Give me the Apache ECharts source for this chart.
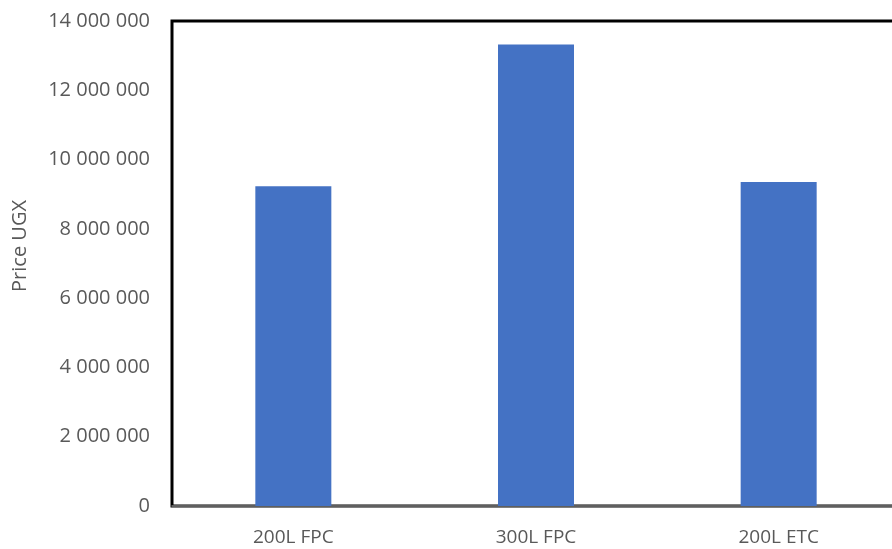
<!DOCTYPE html>
<html>
<head>
<meta charset="utf-8">
<script src="https://cdn.jsdelivr.net/npm/echarts@6/dist/echarts.min.js"></script>
<style>
  html, body { margin: 0; padding: 0; background: #ffffff; overflow: hidden; }
  /* the plot frame runs past the right edge of the page */
  #chart { width: 900px; height: 549px; }
</style>
</head>
<body>
<div id="chart"></div>
<script>
// Prices of the three tank models, in Ugandan shillings
const categories = ['200L FPC', '300L FPC', '200L ETC'];
const prices = [9230000, 13320000, 9350000];
const yTicks = [0, 2000000, 4000000, 6000000, 8000000, 10000000, 12000000, 14000000];
const yTitle = 'Price UGX';

const FONT = '"Open Sans", Lato, sans-serif';

// Thousands grouped with spaces: 14 000 000
function groupThousands(v) {
  return String(v).replace(/\B(?=(\d{3})+(?!\d))/g, ' ');
}

const chart = echarts.init(document.getElementById('chart'), null, { renderer: 'canvas' });
chart.setOption({
  animation: false,
  backgroundColor: '#ffffff',
  grid: {
    left: 172,
    top: 21,
    right: -2,
    bottom: 43,
    show: true,
    borderColor: '#000000',
    borderWidth: 3,
    containLabel: false
  },
  xAxis: {
    type: 'category',
    data: categories,
    axisLine: { show: true, lineStyle: { color: '#7f7f7f', width: 1.5 } },
    axisTick: { show: false },
    axisLabel: {
      color: '#595959',
      fontFamily: FONT,
      fontSize: 19,
      margin: 22
    }
  },
  yAxis: {
    type: 'value',
    min: yTicks[0],
    max: yTicks[yTicks.length - 1],
    interval: yTicks[1] - yTicks[0],
    splitLine: { show: false },
    axisLine: { show: false },
    axisTick: { show: false },
    axisLabel: {
      color: '#595959',
      fontFamily: FONT,
      fontSize: 20,
      margin: 22,
      formatter: groupThousands
    }
  },
  graphic: [{
    type: 'text',
    left: 10,
    top: 200,
    rotation: Math.PI / 2,
    style: {
      text: yTitle,
      fill: '#595959',
      font: '20px ' + FONT
    }
  }],
  series: [{
    type: 'bar',
    data: prices,
    barWidth: 76,
    itemStyle: { color: '#4472C4' }
  }]
});
</script>
</body>
</html>
